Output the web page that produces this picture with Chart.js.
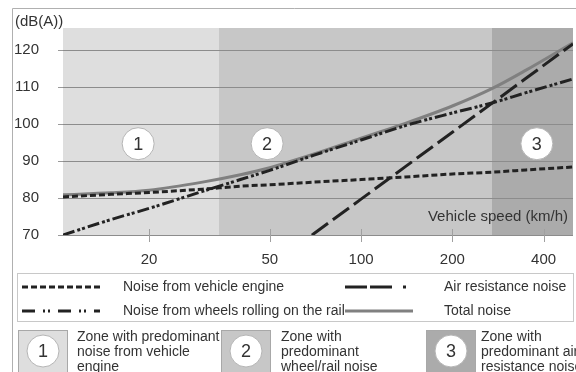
<!DOCTYPE html>
<html>
<head>
<meta charset="utf-8">
<script src="https://cdn.jsdelivr.net/npm/chart.js@4.4.1/dist/chart.umd.min.js"></script>
<style>
  html, body { margin: 0; padding: 0; background: #fff; }
  #wrap { width: 576px; height: 372px; position: relative; overflow: hidden; }
</style>
</head>
<body>
<div id="wrap"><canvas id="grafico-ruido" width="576" height="372"></canvas></div>
<script>
// Velocidades (km/h) y niveles de ruido (dB(A))
const speeds      = [10.4, 15, 20, 30, 40, 50, 70, 100, 140, 200, 270, 350, 500];
const engineNoise = [80.3, 81.0, 81.5, 82.4, 83.2, 83.6, 84.3, 85.0, 85.7, 86.5, 87.0, 87.6, 88.4];
const wheelNoise  = [70.0, 74.2, 77.2, 81.8, 85.0, 87.5, 91.6, 95.7, 99.6, 103.0, 105.7, 108.5, 112.2];
const airNoise    = [null, null, null, null, null, 61.7, 70.4, 79.7, 88.5, 97.8, 105.6, 112.4, 121.7];
const totalNoise  = [80.9, 81.4, 82.1, 84.3, 86.3, 88.2, 91.9, 96.2, 100.2, 104.9, 109.6, 114.6, 122.0];

// Ejes
const xTicks = [20, 50, 100, 200, 400];
const yTicks = [70, 80, 90, 100, 110, 120];

// Zonas (límites en km/h)
const zoneEdges = [10.4, 34, 270, 500];
const zoneNames = ['1', '2', '3'];
const zoneTexts = [
  ['Zone with predominant', 'noise from vehicle', 'engine'],
  ['Zone with', 'predominant', 'wheel/rail noise'],
  ['Zone with', 'predominant air', 'resistance noise']
];

// Leyenda de líneas
const seriesNames = [
  'Noise from vehicle engine',
  'Noise from wheels rolling on the rail',
  'Air resistance noise',
  'Total noise'
];

const FONT = '"Liberation Sans", Arial, sans-serif';
const TEXT = '#333';
const zoneColors = ['#dedede', '#c7c7c7', '#ababab'];

function toPoints(values) {
  const pts = [];
  speeds.forEach((s, i) => {
    if (values[i] !== null) pts.push({ x: s, y: values[i] });
  });
  return pts;
}

function circleLabel(ctx, cx, cy, txt) {
  ctx.beginPath();
  ctx.arc(cx, cy, 16, 0, Math.PI * 2);
  ctx.fillStyle = '#fff';
  ctx.fill();
  ctx.lineWidth = 1;
  ctx.strokeStyle = '#b5b5b5';
  ctx.stroke();
  ctx.fillStyle = TEXT;
  ctx.font = '18px ' + FONT;
  ctx.textAlign = 'center';
  ctx.textBaseline = 'middle';
  ctx.fillText(txt, cx, cy + 1);
}

function sample(ctx, x0, x1, y, dash, color, width) {
  ctx.save();
  ctx.beginPath();
  ctx.setLineDash(dash);
  ctx.strokeStyle = color;
  ctx.lineWidth = width;
  ctx.moveTo(x0, y);
  ctx.lineTo(x1, y);
  ctx.stroke();
  ctx.restore();
}

const decoracion = {
  id: 'decoracion',
  beforeDraw(chart) {
    const { ctx, chartArea: a, scales: { x } } = chart;
    ctx.save();
    for (let i = 0; i < zoneNames.length; i++) {
      const x0 = Math.round(x.getPixelForValue(zoneEdges[i]));
      const x1 = Math.round(x.getPixelForValue(zoneEdges[i + 1]));
      ctx.fillStyle = zoneColors[i];
      ctx.fillRect(x0, a.top, x1 - x0, a.bottom - a.top);
    }
    ctx.restore();
  },
  afterDraw(chart) {
    const { ctx, chartArea: a, scales: { x, y } } = chart;
    ctx.save();

    // Marcas del eje x
    ctx.strokeStyle = '#a0a0a0';
    ctx.lineWidth = 1;
    xTicks.forEach(v => {
      const px = Math.round(x.getPixelForValue(v)) + 0.5;
      ctx.beginPath();
      ctx.moveTo(px, a.bottom - 6);
      ctx.lineTo(px, a.bottom + 7);
      ctx.stroke();
    });

    // Círculos de zona dentro del gráfico
    circleLabel(ctx, x.getPixelForValue(18.4), y.getPixelForValue(94.7), '1');
    circleLabel(ctx, x.getPixelForValue(49), y.getPixelForValue(94.7), '2');
    circleLabel(ctx, x.getPixelForValue(380), y.getPixelForValue(94.7), '3');

    // Unidades y título del eje
    ctx.fillStyle = TEXT;
    ctx.font = '15px ' + FONT;
    ctx.textBaseline = 'middle';
    ctx.textAlign = 'left';
    ctx.fillText('(dB(A))', 15, 22);
    ctx.textAlign = 'right';
    ctx.fillText('Vehicle speed (km/h)', 568, 217);

    // Marco exterior
    ctx.strokeStyle = '#b0b0b0';
    ctx.lineWidth = 1;
    ctx.beginPath();
    ctx.moveTo(12.5, 372);
    ctx.lineTo(12.5, 8.5);
    ctx.lineTo(576, 8.5);
    ctx.stroke();

    // Caja de leyenda
    ctx.strokeStyle = '#c8c8c8';
    ctx.strokeRect(17.5, 273.5, 556, 48);

    const r1 = 287, r2 = 311;
    sample(ctx, 22, 100, r1, [6, 3], '#222', 3);
    sample(ctx, 22, 100, r2, [13, 8, 2, 3, 2, 8], '#222', 3);
    sample(ctx, 345, 413, r1, [22, 3, 22, 11, 3, 50], '#222', 3);
    sample(ctx, 345, 413, r2, [], '#808080', 3);

    ctx.fillStyle = TEXT;
    ctx.font = '14px ' + FONT;
    ctx.textAlign = 'left';
    ctx.textBaseline = 'middle';
    ctx.fillText(seriesNames[0], 123, r1);
    ctx.fillText(seriesNames[1], 123, r2);
    ctx.fillText(seriesNames[2], 444, r1);
    ctx.fillText(seriesNames[3], 444, r2);

    // Leyenda de zonas
    const boxX = [18, 221, 426];
    const textX = [77, 281, 481];
    for (let i = 0; i < zoneNames.length; i++) {
      ctx.fillStyle = zoneColors[i];
      ctx.fillRect(boxX[i], 330, 50, 50);
      ctx.strokeStyle = '#a8a8a8';
      ctx.strokeRect(boxX[i] + 0.5, 330.5, 49, 49);
      circleLabel(ctx, boxX[i] + 25, 351, zoneNames[i]);
      ctx.fillStyle = TEXT;
      ctx.font = '14px ' + FONT;
      ctx.textAlign = 'left';
      ctx.textBaseline = 'middle';
      zoneTexts[i].forEach((line, j) => ctx.fillText(line, textX[i], 337 + j * 15));
    }
    ctx.restore();
  }
};

const canvas = document.getElementById('grafico-ruido');
new Chart(canvas, {
  type: 'line',
  data: {
    datasets: [
      {
        label: seriesNames[0],
        data: toPoints(engineNoise),
        borderColor: '#222',
        borderWidth: 3,
        borderDash: [6, 3],
        pointRadius: 0,
        cubicInterpolationMode: 'monotone'
      },
      {
        label: seriesNames[1],
        data: toPoints(wheelNoise),
        borderColor: '#222',
        borderWidth: 3,
        borderDash: [12, 3, 3, 2, 3, 3],
        pointRadius: 0,
        cubicInterpolationMode: 'monotone'
      },
      {
        label: seriesNames[2],
        data: toPoints(airNoise),
        borderColor: '#222',
        borderWidth: 3,
        borderDash: [20, 6],
        pointRadius: 0,
        tension: 0
      },
      {
        label: seriesNames[3],
        data: toPoints(totalNoise),
        borderColor: '#808080',
        borderWidth: 3,
        pointRadius: 0,
        cubicInterpolationMode: 'monotone'
      }
    ]
  },
  options: {
    responsive: false,
    animation: false,
    layout: { padding: { left: 15, top: 18, right: 3, bottom: 0 } },
    plugins: {
      legend: { display: false },
      tooltip: { enabled: false }
    },
    scales: {
      x: {
        type: 'logarithmic',
        min: 10.4,
        max: 500,
        grid: { display: false, drawTicks: false },
        border: { display: false },
        ticks: {
          autoSkip: false,
          maxRotation: 0,
          padding: 16,
          color: TEXT,
          font: { family: FONT, size: 15 },
          callback: value => String(value)
        },
        afterBuildTicks: scale => { scale.ticks = xTicks.map(v => ({ value: v })); },
        afterFit: scale => { scale.height = 137; }
      },
      y: {
        min: 70,
        max: 126,
        grid: { color: '#8c8c8c', tickColor: '#9a9a9a', tickLength: 5, lineWidth: 1 },
        border: { display: false },
        ticks: {
          padding: 19,
          color: TEXT,
          font: { family: FONT, size: 15 }
        },
        afterBuildTicks: scale => { scale.ticks = yTicks.map(v => ({ value: v })); },
        afterFit: scale => { scale.width = 48; }
      }
    }
  },
  plugins: [decoracion]
});
</script>
</body>
</html>
